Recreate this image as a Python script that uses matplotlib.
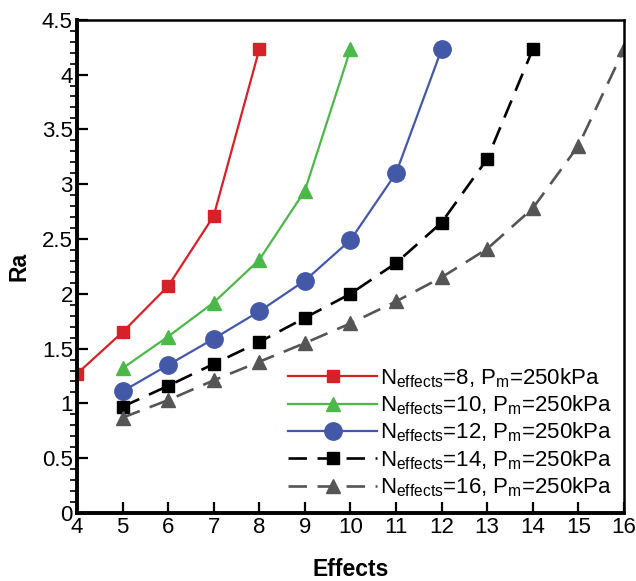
import matplotlib.pyplot as plt
from matplotlib.ticker import MultipleLocator

plt.rcParams['font.family'] = ['Liberation Sans', 'DejaVu Sans']
plt.rcParams['mathtext.fontset'] = 'custom'
plt.rcParams['mathtext.rm'] = 'Liberation Sans'

x8 = [4, 5, 6, 7, 8]
ra8 = [1.27, 1.65, 2.07, 2.71, 4.23]
x10 = [5, 6, 7, 8, 9, 10]
ra10 = [1.32, 1.61, 1.92, 2.31, 2.94, 4.23]
x12 = [5, 6, 7, 8, 9, 10, 11, 12]
ra12 = [1.11, 1.35, 1.59, 1.84, 2.12, 2.49, 3.10, 4.23]
x14 = [5, 6, 7, 8, 9, 10, 11, 12, 13, 14]
ra14 = [0.97, 1.16, 1.36, 1.56, 1.78, 2.00, 2.28, 2.65, 3.23, 4.23]
x16 = [5, 6, 7, 8, 9, 10, 11, 12, 13, 14, 15, 16]
ra16 = [0.87, 1.03, 1.21, 1.38, 1.55, 1.73, 1.93, 2.15, 2.41, 2.78, 3.35, 4.23]

def lab(n):
    return r'N$_{\mathregular{effects}}$=%d, P$_{\mathregular{m}}$=250kPa' % n

fig = plt.figure(figsize=(6.36, 5.81), dpi=100)
ax = fig.add_axes([0.121, 0.117, 0.860, 0.849])

ax.plot(x8, ra8, color='#d62128', lw=1.6, marker='s', ms=9, label=lab(8))
ax.plot(x10, ra10, color='#4cb84a', lw=1.6, marker='^', ms=10.5, label=lab(10))
ax.plot(x12, ra12, color='#4458a8', lw=1.6, marker='o', ms=12.5, label=lab(12))
ax.plot(x14, ra14, color='black', lw=1.9, ls=(0, (7, 4)), marker='s', ms=9, label=lab(14))
ax.plot(x16, ra16, color='#555555', lw=1.9, ls=(0, (7, 4)), marker='^', ms=10.5, label=lab(16))

ax.set_xlim(4, 16)
ax.set_ylim(0, 4.5)
ax.xaxis.set_major_locator(MultipleLocator(1))
ax.yaxis.set_major_locator(MultipleLocator(0.5))
ax.yaxis.set_minor_locator(MultipleLocator(0.1))
ax.tick_params(direction='in', labelsize=16, top=False, right=False, width=1.6)
ax.tick_params(axis='both', which='major', length=8, pad=3)
ax.tick_params(axis='y', which='minor', length=5, width=1.2)
ax.yaxis.set_major_formatter(plt.FuncFormatter(lambda v, p: '%g' % v))
for s in ['left', 'bottom']:
    ax.spines[s].set_linewidth(2.8)
for s in ['top', 'right']:
    ax.spines[s].set_linewidth(1.8)

ax.set_xlabel('Effects', fontsize=16.5, fontweight='bold', labelpad=14)
ax.set_ylabel('Ra', fontsize=16.5, fontweight='bold', labelpad=8)

ax.legend(loc='upper left', bbox_to_anchor=(0.386, 0.298), frameon=False, fontsize=16,
          handlelength=4.0, handletextpad=0.12, labelspacing=0.17, borderpad=0,
          borderaxespad=0)

fig.savefig('out.png', dpi=100)
